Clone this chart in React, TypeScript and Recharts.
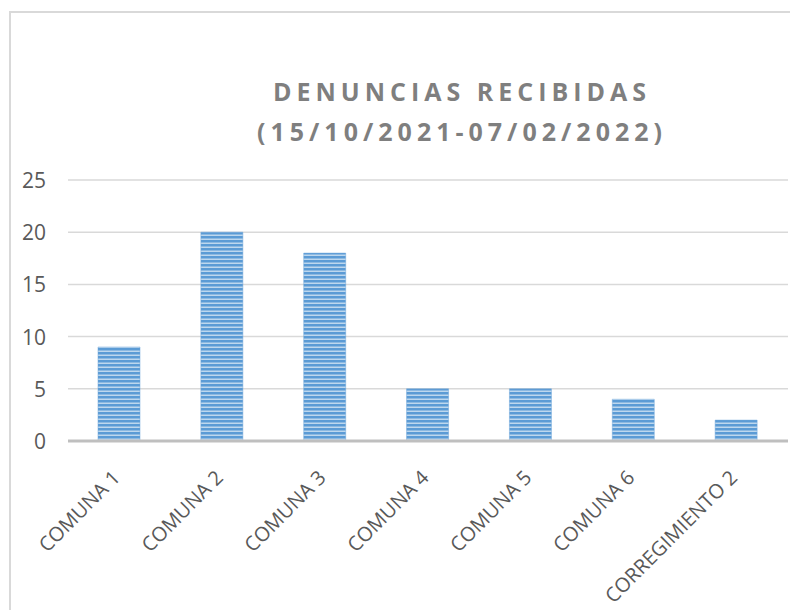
// bar chart: denuncias por comuna

import { BarChart, Bar, XAxis, YAxis, CartesianGrid } from "recharts";

const categories = [
  "COMUNA 1",
  "COMUNA 2",
  "COMUNA 3",
  "COMUNA 4",
  "COMUNA 5",
  "COMUNA 6",
  "CORREGIMIENTO 2",
];
const denuncias = [9, 20, 18, 5, 5, 4, 2];
const yTicks = [0, 5, 10, 15, 20, 25];

const titleLines = ["DENUNCIAS RECIBIDAS", "(15/10/2021-07/02/2022)"];

const data = categories.map((name, i) => ({ name, value: denuncias[i] }));

const FONT = "'Open Sans', 'Noto Sans', sans-serif";

function YTick(props: any) {
  const { x, y, payload } = props;
  return (
    <text x={x - 22} y={y + 8} textAnchor="end" fill="#595959" style={{ fontSize: 21, fontFamily: FONT }}>
      {payload.value}
    </text>
  );
}

function XTick(props: any) {
  const { x, y, payload } = props;
  return (
    <g transform={`translate(${x + 2},${y + 38})`}>
      <text textAnchor="end" transform="rotate(-45)" fill="#595959" style={{ fontSize: 20, fontFamily: FONT }}>
        {payload.value}
      </text>
    </g>
  );
}

export default function App() {
  return (
    <div style={{ position: "absolute", left: 0, top: 0, width: 790, height: 610, background: "#fff" }}>
      {/* chart frame */}
      <div
        style={{
          position: "absolute",
          left: 9,
          top: 11,
          right: 0,
          bottom: 0,
          borderLeft: "2px solid #d9d9d9",
          borderTop: "2px solid #d9d9d9",
        }}
      />
      <BarChart
        width={790}
        height={610}
        data={data}
        margin={{ top: 180, right: 2, left: 10, bottom: 19 }}
        barCategoryGap={0}
      >
        <defs>
          <pattern id="stripes" x="0" y="0" width="8" height="4" patternUnits="userSpaceOnUse">
            <rect x="0" y="0" width="8" height="4" fill="#5B9BD5" />
            <rect x="0" y="2.5" width="8" height="1.5" fill="#BDD7EE" />
          </pattern>
        </defs>
        <text
          x={462}
          y={101}
          textAnchor="middle"
          fill="#7f7f7f"
          style={{ fontSize: 25, fontWeight: "bold", fontFamily: FONT, letterSpacing: 5 }}
        >
          <tspan x={462} dy={0}>{titleLines[0]}</tspan>
          <tspan x={462} dy={40}>{titleLines[1]}</tspan>
        </text>
        <CartesianGrid vertical={false} stroke="#d9d9d9" strokeWidth={1.5} />
        <XAxis
          dataKey="name"
          height={150}
          interval={0}
          tickLine={false}
          tickSize={0}
          tickMargin={0}
          axisLine={{ stroke: "#bfbfbf", strokeWidth: 3 }}
          tick={<XTick />}
        />
        <YAxis
          width={58}
          domain={[0, 25]}
          ticks={yTicks}
          axisLine={false}
          tickLine={false}
          tickSize={0}
          tickMargin={0}
          tick={<YTick />}
        />
        <Bar
          dataKey="value"
          barSize={42}
          fill="url(#stripes)"
          stroke="#6fa6da"
          strokeWidth={0.5}
          isAnimationActive={false}
        />
      </BarChart>
    </div>
  );
}
